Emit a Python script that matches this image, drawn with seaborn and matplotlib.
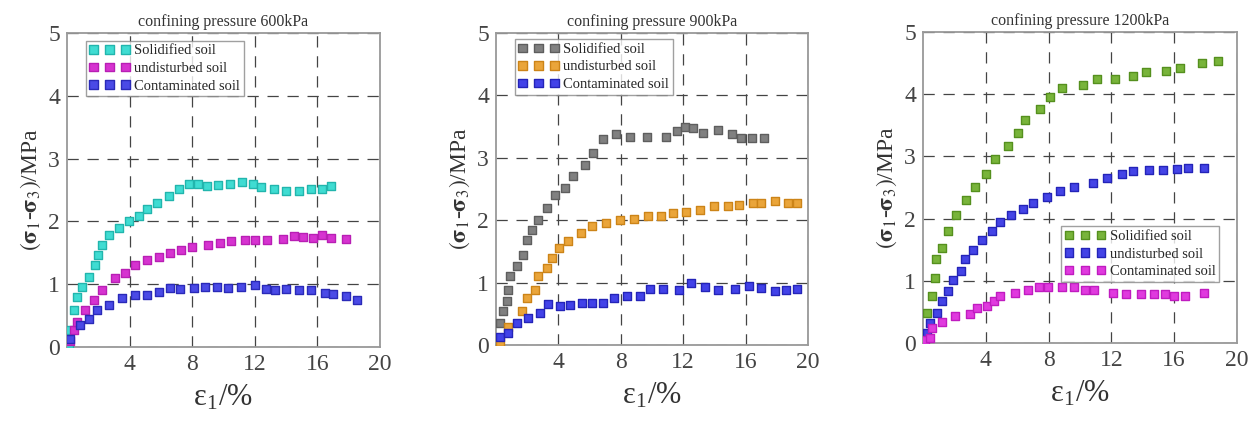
import matplotlib
matplotlib.use("Agg")
import matplotlib.pyplot as plt
import seaborn as sns
import pandas as pd

# ---------------- data ----------------
titles = ["confining pressure 600kPa", "confining pressure 900kPa", "confining pressure 1200kPa"]
labels = ["Solidified soil", "undisturbed soil", "Contaminated soil"]

# Panel 1 (600 kPa)
p1_solid_x = [0.1, 0.2, 0.43, 0.64, 0.96, 1.4, 1.77, 1.98, 2.23, 2.66, 3.3, 3.94, 4.57, 5.1, 5.74, 6.5, 7.17, 7.77, 8.4, 8.94, 9.68, 10.4, 11.2, 11.9, 12.4, 13.2, 14.0, 14.8, 15.6, 16.3, 16.9]
p1_solid_y = [0.05, 0.27, 0.59, 0.8, 0.96, 1.12, 1.31, 1.47, 1.63, 1.79, 1.9, 2.0, 2.09, 2.19, 2.3, 2.41, 2.51, 2.59, 2.59, 2.57, 2.58, 2.59, 2.62, 2.59, 2.54, 2.52, 2.49, 2.49, 2.51, 2.51, 2.57]
p1_undist_x = [0.2, 0.43, 0.64, 1.17, 1.7, 2.23, 3.08, 3.72, 4.36, 5.1, 5.85, 6.6, 7.3, 7.98, 9.04, 9.79, 10.5, 11.4, 12.0, 12.8, 13.8, 14.5, 15.1, 15.7, 16.3, 16.9, 17.8]
p1_undist_y = [0.1, 0.27, 0.4, 0.59, 0.75, 0.91, 1.1, 1.18, 1.31, 1.39, 1.44, 1.5, 1.55, 1.6, 1.63, 1.66, 1.68, 1.71, 1.71, 1.71, 1.72, 1.76, 1.75, 1.74, 1.79, 1.74, 1.72]
p1_cont_x = [0.2, 0.85, 1.38, 1.9, 2.66, 3.5, 4.36, 5.1, 5.9, 6.6, 7.2, 8.1, 8.8, 9.6, 10.3, 11.1, 12.0, 12.7, 13.3, 14.0, 14.8, 15.6, 16.5, 17.0, 17.8, 18.5]
p1_cont_y = [0.13, 0.35, 0.45, 0.59, 0.67, 0.78, 0.83, 0.83, 0.88, 0.94, 0.92, 0.94, 0.95, 0.95, 0.94, 0.96, 0.99, 0.92, 0.9, 0.92, 0.91, 0.9, 0.86, 0.84, 0.81, 0.75]

# Panel 2 (900 kPa)
p2_solid_x = [0.15, 0.26, 0.47, 0.68, 0.79, 0.9, 1.32, 1.75, 1.96, 2.28, 2.71, 3.24, 3.78, 4.42, 4.95, 5.7, 6.19, 6.87, 7.68, 8.58, 9.65, 10.9, 11.6, 12.1, 12.6, 13.3, 14.2, 15.1, 15.7, 16.4, 17.2]
p2_solid_y = [0.05, 0.35, 0.54, 0.7, 0.88, 1.1, 1.26, 1.45, 1.69, 1.85, 2.01, 2.2, 2.41, 2.52, 2.71, 2.88, 3.07, 3.3, 3.38, 3.33, 3.33, 3.33, 3.43, 3.5, 3.47, 3.4, 3.45, 3.38, 3.31, 3.32, 3.31]
p2_undist_x = [0.26, 0.79, 1.64, 2.0, 2.5, 2.71, 3.24, 3.56, 4.06, 4.63, 5.42, 6.13, 7.04, 7.94, 8.86, 9.75, 10.6, 11.36, 12.2, 13.1, 14.0, 14.9, 15.6, 16.5, 17.0, 17.9, 18.7, 19.3]
p2_undist_y = [0.05, 0.29, 0.54, 0.75, 0.88, 1.1, 1.23, 1.39, 1.55, 1.66, 1.8, 1.9, 1.96, 2.0, 2.02, 2.07, 2.07, 2.12, 2.13, 2.16, 2.22, 2.22, 2.25, 2.27, 2.28, 2.3, 2.27, 2.27]
p2_cont_x = [0.26, 0.79, 1.32, 2.07, 2.82, 3.35, 4.1, 4.74, 5.49, 6.13, 6.87, 7.58, 8.37, 9.22, 9.86, 10.7, 11.7, 12.5, 13.4, 14.2, 15.3, 16.2, 17.0, 17.9, 18.6, 19.3]
p2_cont_y = [0.13, 0.2, 0.35, 0.43, 0.51, 0.66, 0.62, 0.64, 0.67, 0.68, 0.67, 0.75, 0.78, 0.78, 0.89, 0.89, 0.88, 0.99, 0.93, 0.88, 0.89, 0.95, 0.91, 0.87, 0.88, 0.89]

# Panel 3 (1200 kPa)
p3_solid_x = [0.15, 0.25, 0.57, 0.79, 0.85, 1.21, 1.57, 2.12, 2.76, 3.33, 4.01, 4.56, 5.39, 6.05, 6.48, 7.47, 8.07, 8.85, 10.2, 11.1, 12.2, 13.4, 14.2, 15.5, 16.4, 17.8, 18.8]
p3_solid_y = [0.13, 0.48, 0.76, 1.05, 1.35, 1.53, 1.8, 2.05, 2.3, 2.51, 2.72, 2.96, 3.16, 3.38, 3.58, 3.76, 3.95, 4.1, 4.15, 4.25, 4.25, 4.29, 4.35, 4.37, 4.42, 4.5, 4.53]
p3_undist_x = [0.25, 0.42, 0.89, 1.21, 1.59, 1.91, 2.42, 2.7, 3.18, 3.76, 4.39, 4.93, 5.63, 6.37, 7.0, 7.9, 8.7, 9.6, 10.8, 11.7, 12.7, 13.4, 14.4, 15.3, 16.2, 16.9, 17.9]
p3_undist_y = [0.16, 0.32, 0.48, 0.67, 0.84, 1.01, 1.15, 1.35, 1.5, 1.65, 1.8, 1.94, 2.05, 2.15, 2.25, 2.35, 2.44, 2.5, 2.57, 2.65, 2.72, 2.76, 2.78, 2.78, 2.79, 2.81, 2.81]
p3_cont_x = [0.15, 0.42, 0.57, 1.21, 2.06, 2.97, 3.44, 4.08, 4.5, 4.93, 5.84, 6.67, 7.37, 7.96, 8.85, 9.6, 10.3, 10.9, 12.1, 12.9, 13.9, 14.7, 15.4, 16.0, 16.7, 17.9]
p3_cont_y = [0.05, 0.08, 0.24, 0.34, 0.43, 0.47, 0.56, 0.6, 0.67, 0.76, 0.8, 0.85, 0.9, 0.9, 0.9, 0.9, 0.86, 0.86, 0.81, 0.79, 0.79, 0.78, 0.78, 0.76, 0.76, 0.81]

x_ticks = [4, 8, 12, 16, 20]
y_ticks = [0, 1, 2, 3, 4, 5]

panels = [
    [(p1_solid_x, p1_solid_y), (p1_undist_x, p1_undist_y), (p1_cont_x, p1_cont_y)],
    [(p2_solid_x, p2_solid_y), (p2_undist_x, p2_undist_y), (p2_cont_x, p2_cont_y)],
    [(p3_solid_x, p3_solid_y), (p3_undist_x, p3_undist_y), (p3_cont_x, p3_cont_y)],
]

# (face, edge) colours per panel / series
colors = [
    [("#3fdcd2", "#22b5ad"), ("#d633d0", "#b81fb4"), ("#4a4ae6", "#2a2ab8")],
    [("#808080", "#5e5e5e"), ("#eaa53a", "#cc8418"), ("#4242e8", "#2424b8")],
    [("#78b43a", "#55901e"), ("#4444e6", "#2424b8"), ("#e03ade", "#c01cc0")],
]

legend_locs = [(0.05, 0.985), (0.05, 0.99), (0.43, 0.385)]

# ---------------- style ----------------
sns.set_theme(style="white")
plt.rcParams["font.family"] = ["Liberation Serif", "DejaVu Serif"]
plt.rcParams["mathtext.fontset"] = "stix"

fig = plt.figure(figsize=(12.58, 4.25), dpi=100)
boxes = [
    [67 / 1258, 78 / 425, 313 / 1258, 314 / 425],
    [496 / 1258, 80 / 425, 312 / 1258, 312 / 425],
    [923 / 1258, 82 / 425, 314 / 1258, 311 / 425],
]

for i in range(3):
    ax = fig.add_axes(boxes[i])
    for j in range(3):
        xs, ys = panels[i][j]
        df = pd.DataFrame({"strain": xs, "stress": ys})
        face, edge = colors[i][j]
        sns.scatterplot(data=df, x="strain", y="stress", ax=ax, marker="s",
                        s=38, color=face, edgecolor=edge, linewidth=1.0,
                        label=labels[j], zorder=3)
    ax.set_xlim(0, 20)
    ax.set_ylim(0, 5)
    ax.set_xticks(x_ticks)
    ax.set_yticks(y_ticks)
    ax.tick_params(axis="both", length=0, labelsize=17, colors="#444444", pad=5)
    ax.grid(True, color="#444444", linestyle=(0, (9, 7)), linewidth=0.9)
    for sp in ax.spines.values():
        sp.set_color("#999999")
        sp.set_linewidth(1.3)
    ax.set_title(titles[i], fontsize=11.5, color="#333333", pad=5)
    ax.set_xlabel(r"$\mathregular{\varepsilon}_{\mathregular{1}}$/%", fontsize=22, color="#333333", labelpad=6)
    ax.set_ylabel(r"$(\mathbf{\sigma}_{1}$-$\mathbf{\sigma}_{3})$/MPa", fontsize=17, color="#333333", labelpad=4)
    leg = ax.legend(loc="upper left", bbox_to_anchor=legend_locs[i], scatterpoints=3,
                    scatteryoffsets=[0.5], fontsize=10.5, frameon=True, fancybox=False,
                    borderpad=0.25, labelspacing=0.3, handletextpad=0.3, handlelength=2.8,
                    borderaxespad=0.2)
    leg.get_frame().set_edgecolor("#888888")
    leg.get_frame().set_linewidth(1.0)

fig.savefig("out.png", dpi=100)
